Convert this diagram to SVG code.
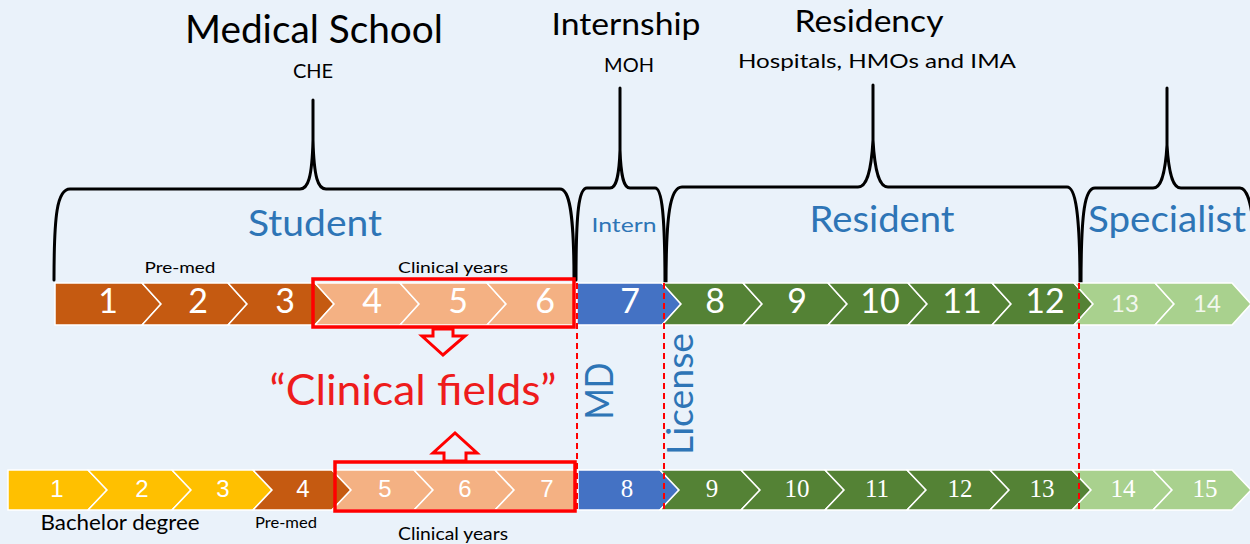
<svg xmlns="http://www.w3.org/2000/svg" width="1250" height="544" viewBox="0 0 1250 544">
<style>
.bg{fill:#EAF2FA}
.c{stroke:#FFFFFF;stroke-width:1.5;stroke-linejoin:miter}
.do{fill:#C55A11}.lo{fill:#F4B183}.bl{fill:#4472C4}.dg{fill:#548235}.lg{fill:#A9D18E}.ye{fill:#FFC000}
.n{font-family:Lato,"Open Sans",sans-serif;fill:#FFFFFF;text-anchor:middle}
.nt{font-size:34px}
.ns{font-size:24px;fill:#F2F7EE}
.bs{font-family:"Liberation Sans",Arial,sans-serif;font-size:24px;fill:#FFFFFF;text-anchor:middle}
.bf{font-family:"Liberation Serif","Times New Roman",serif;font-size:25px;fill:#FFFFFF;text-anchor:middle}
.t{font-family:Lato,"Open Sans",sans-serif;text-anchor:middle;fill:#000000}
.bluet{font-family:Lato,"Open Sans",sans-serif;text-anchor:middle;fill:#2E75B6}
.brace{fill:none;stroke:#000000;stroke-width:3;stroke-linejoin:round;stroke-linecap:round}
.rbox{fill:none;stroke:#FF0000;stroke-width:3.5}
.dash{stroke:#FF0000;stroke-width:2;stroke-dasharray:6 4;fill:none}
.arr{fill:#EAF2FA;stroke:#FF0000;stroke-width:3;stroke-linejoin:miter}
</style>
<rect class="bg" x="0" y="0" width="1250" height="544"/>

<g id="titles">
<text class="t" x="314" y="43" font-size="38" textLength="258" lengthAdjust="spacingAndGlyphs">Medical School</text>
<text class="t" x="313" y="78" font-size="20">CHE</text>
<text class="t" x="626" y="35" font-size="31" textLength="149" lengthAdjust="spacingAndGlyphs">Internship</text>
<text class="t" x="629" y="72" font-size="20">MOH</text>
<text class="t" x="869" y="32" font-size="31" textLength="149" lengthAdjust="spacingAndGlyphs">Residency</text>
<text class="t" x="877" y="68" font-size="20" textLength="278" lengthAdjust="spacingAndGlyphs">Hospitals, HMOs and IMA</text>
</g>

<g id="braces">
<path class="brace" d="M54,280 C54,215 57,189 70,189 L300,189 C308,189 312,178 313,140 L313,100 L313,140 C314,178 318,189 326,189 L560,189 C569,189 574,210 574,280"/>
<path class="brace" d="M576,280 C576,210 579,188 587,188 L610,188 C616,188 619,178 620,150 L620,88 L620,150 C621,178 624,188 630,188 L655,188 C662,188 665,215 665,286"/>
<path class="brace" d="M666,286 C666,215 670,187 682,187 L858,187 C866,187 871,175 873,140 L873,85 L873,140 C875,175 880,187 888,187 L1067,187 C1075,187 1080,210 1080,286"/>
<path class="brace" d="M1081,286 C1081,210 1085,188 1095,188 L1153,188 C1160,188 1165,178 1167,145 L1167,88 L1167,145 C1169,178 1174,188 1181,188 L1240,188 C1246,188 1250,200 1252,215"/>
</g>

<g id="roles">
<text class="bluet" x="315" y="236" font-size="37" textLength="134" lengthAdjust="spacingAndGlyphs">Student</text>
<text class="bluet" x="624" y="232" font-size="20" textLength="65" lengthAdjust="spacingAndGlyphs">Intern</text>
<text class="bluet" x="882" y="232" font-size="37" textLength="145" lengthAdjust="spacingAndGlyphs">Resident</text>
<text class="bluet" x="1167" y="232" font-size="37" textLength="158" lengthAdjust="spacingAndGlyphs">Specialist</text>
</g>

<g id="labels">
<text class="t" x="180" y="273" font-size="16" textLength="71" lengthAdjust="spacingAndGlyphs">Pre-med</text>
<text class="t" x="453" y="273" font-size="16" textLength="110" lengthAdjust="spacingAndGlyphs">Clinical years</text>
<text class="t" x="120" y="530" font-size="21" textLength="159" lengthAdjust="spacingAndGlyphs">Bachelor degree</text>
<text class="t" x="286" y="528" font-size="16" textLength="62" lengthAdjust="spacingAndGlyphs">Pre-med</text>
<text class="t" x="453" y="540" font-size="18" textLength="110" lengthAdjust="spacingAndGlyphs">Clinical years</text>
</g>

<g id="top-row">
<g id="t1"><polygon class="c do" points="55,283 142,283 161,304 142,325 55,325"/><text class="n nt" x="108" y="313">1</text></g>
<g id="t2"><polygon class="c do" points="142,283 228,283 247,304 228,325 142,325 161,304"/><text class="n nt" x="198" y="313">2</text></g>
<g id="t3"><polygon class="c do" points="228,283 315,283 334,304 315,325 228,325 247,304"/><text class="n nt" x="285" y="313">3</text></g>
<g id="t4"><polygon class="c lo" points="315,283 400,283 419,304 400,325 315,325 334,304"/><text class="n nt" x="372" y="313">4</text></g>
<g id="t5"><polygon class="c lo" points="400,283 487,283 506,304 487,325 400,325 419,304"/><text class="n nt" x="458" y="313">5</text></g>
<g id="t6"><polygon class="c lo" points="487,283 575,283 575,325 487,325 506,304"/><text class="n nt" x="545" y="313">6</text></g>
<g id="t7"><polygon class="c bl" points="577,283 662,283 681,304 662,325 577,325"/><text class="n nt" x="630" y="313">7</text></g>
<g id="t8"><polygon class="c dg" points="662,283 743,283 762,304 743,325 662,325 681,304"/><text class="n nt" x="715" y="313">8</text></g>
<g id="t9"><polygon class="c dg" points="743,283 828,283 847,304 828,325 743,325 762,304"/><text class="n nt" x="797" y="313">9</text></g>
<g id="t10"><polygon class="c dg" points="828,283 908,283 927,304 908,325 828,325 847,304"/><text class="n nt" x="880" y="313">10</text></g>
<g id="t11"><polygon class="c dg" points="908,283 992,283 1011,304 992,325 908,325 927,304"/><text class="n nt" x="962" y="313">11</text></g>
<g id="t12"><polygon class="c dg" points="992,283 1074,283 1093,304 1074,325 992,325 1011,304"/><text class="n nt" x="1045" y="313">12</text></g>
<g id="t13"><polygon class="c lg" points="1074,283 1155,283 1174,304 1155,325 1074,325 1093,304"/><text class="n ns" x="1125" y="312">13</text></g>
<g id="t14"><polygon class="c lg" points="1155,283 1232,283 1251,304 1232,325 1155,325 1174,304"/><text class="n ns" x="1207" y="312">14</text></g>
</g>

<g id="bottom-row">
<g id="b1"><polygon class="c ye" points="8,470 88,470 107,490 88,510 8,510"/><text class="bs" x="57" y="497">1</text></g>
<g id="b2"><polygon class="c ye" points="88,470 172,470 191,490 172,510 88,510 107,490"/><text class="bs" x="142" y="497">2</text></g>
<g id="b3"><polygon class="c ye" points="172,470 253,470 272,490 253,510 172,510 191,490"/><text class="bs" x="223" y="497">3</text></g>
<g id="b4"><polygon class="c do" points="253,470 332,470 351,490 332,510 253,510 272,490"/><text class="bs" x="303" y="497">4</text></g>
<g id="b5"><polygon class="c lo" points="332,470 414,470 433,490 414,510 332,510 351,490"/><text class="bs" x="385" y="497">5</text></g>
<g id="b6"><polygon class="c lo" points="414,470 495,470 514,490 495,510 414,510 433,490"/><text class="bs" x="465" y="497">6</text></g>
<g id="b7"><polygon class="c lo" points="495,470 575,470 575,510 495,510 514,490"/><text class="bs" x="547" y="497">7</text></g>
<g id="b8"><polygon class="c bl" points="578,470 660,470 679,490 660,510 578,510"/><text class="bf" x="627" y="497">8</text></g>
<g id="b9"><polygon class="c dg" points="660,470 741,470 760,490 741,510 660,510 679,490"/><text class="bf" x="712" y="497">9</text></g>
<g id="b10"><polygon class="c dg" points="741,470 825,470 844,490 825,510 741,510 760,490"/><text class="bf" x="797" y="497">10</text></g>
<g id="b11"><polygon class="c dg" points="825,470 907,470 926,490 907,510 825,510 844,490"/><text class="bf" x="877" y="497">11</text></g>
<g id="b12"><polygon class="c dg" points="907,470 990,470 1009,490 990,510 907,510 926,490"/><text class="bf" x="960" y="497">12</text></g>
<g id="b13"><polygon class="c dg" points="990,470 1072,470 1091,490 1072,510 990,510 1009,490"/><text class="bf" x="1042" y="497">13</text></g>
<g id="b14"><polygon class="c lg" points="1072,470 1153,470 1172,490 1153,510 1072,510 1091,490"/><text class="bf" x="1123" y="497">14</text></g>
<g id="b15"><polygon class="c lg" points="1153,470 1232,470 1251,490 1232,510 1153,510 1172,490"/><text class="bf" x="1205" y="497">15</text></g>
</g>

<g id="clinical-boxes">
<rect class="rbox" x="313" y="279" width="261" height="48"/>
<rect class="rbox" x="335" y="462" width="240" height="49"/>
</g>

<g id="connectors">
<polygon class="arr" points="433,329 453,329 453,336 465,336 443,355 422,336 433,336"/>
<polygon class="arr" points="444,461 444,453 433,453 455,433 477,453 466,453 466,461"/>
<line class="dash" x1="577" y1="283" x2="577" y2="512"/>
<line class="dash" x1="664" y1="283" x2="664" y2="512"/>
<line class="dash" x1="1079" y1="283" x2="1079" y2="510"/>
</g>

<g id="clinical-fields">
<text x="413" y="405" font-family="Lato,'Open Sans',sans-serif" font-size="42" fill="#EE1C1C" text-anchor="middle" textLength="287" lengthAdjust="spacingAndGlyphs">“Clinical fields”</text>
</g>

<g id="md">
<text class="bluet" transform="translate(613,391) rotate(-90)" font-size="39" textLength="57" lengthAdjust="spacingAndGlyphs">MD</text>
</g>
<g id="license">
<text class="bluet" transform="translate(693,394) rotate(-90)" font-size="36" textLength="122" lengthAdjust="spacingAndGlyphs">License</text>
</g>
</svg>
